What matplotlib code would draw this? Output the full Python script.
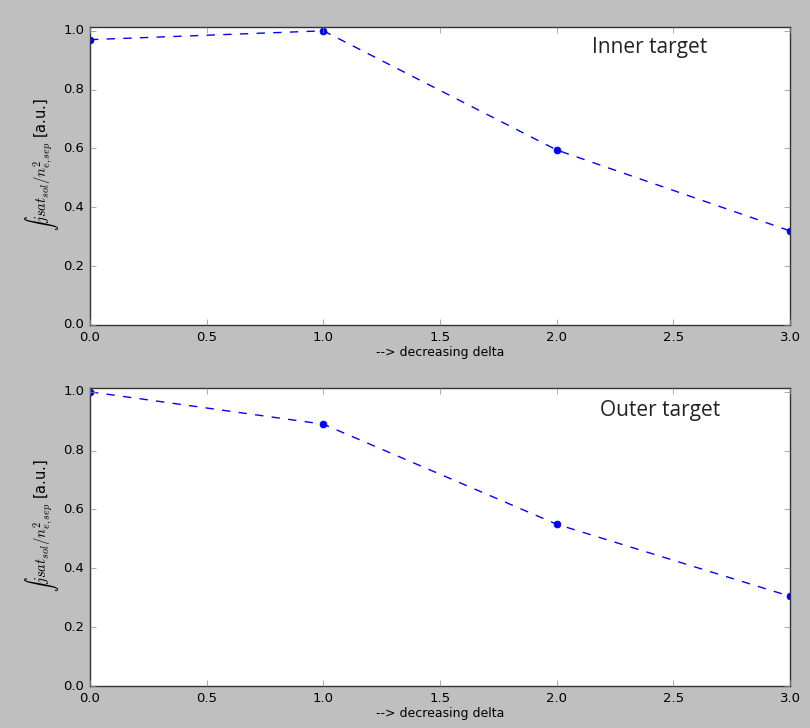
import matplotlib
matplotlib.use('Agg')
import matplotlib.pyplot as plt

plt.style.use('classic')

# steps of decreasing delta
delta_steps = [0, 1, 2, 3]
inner_vals = [0.97, 1.0, 0.595, 0.32]
outer_vals = [1.0, 0.89, 0.55, 0.305]
panel_names = ['Inner target', 'Outer target']
name_pos = [(0.80, 0.93), (0.814, 0.926)]

fig = plt.figure(figsize=(8.1, 7.28), dpi=100, facecolor='#bfbfbf')
ax1 = fig.add_axes([90/810, 1 - 325/728, 700/810, 298/728])
ax2 = fig.add_axes([90/810, 1 - 686/728, 700/810, 298/728])

ylab = r'$\int jsat_{sol}/n^2_{e,sep}$ [a.u.]'

for ax, vals, name, pos in zip([ax1, ax2], [inner_vals, outer_vals], panel_names, name_pos):
    ax.plot(delta_steps, vals, 'bo--', markersize=5, markeredgecolor='b', linewidth=1)
    ax.set_xlim(0, 3)
    ax.set_ylim(0, 1.013)
    ax.set_xticks([0, 0.5, 1.0, 1.5, 2.0, 2.5, 3.0])
    ax.set_yticks([0, 0.2, 0.4, 0.6, 0.8, 1.0])
    ax.tick_params(labelsize=9.5, length=4, color='#888888')
    ax.set_xlabel('--> decreasing delta', fontsize=9, labelpad=2)
    ax.set_ylabel(ylab, fontsize=10.5)
    ax.yaxis.set_label_coords(-0.042, 0.54)
    ax.text(pos[0], pos[1], name, transform=ax.transAxes, fontsize=15,
            family='Open Sans', ha='center', va='center', color='#222222')
    for sp in ax.spines.values():
        sp.set_color('#333333')

fig.savefig('out.png', dpi=100, facecolor=fig.get_facecolor())
